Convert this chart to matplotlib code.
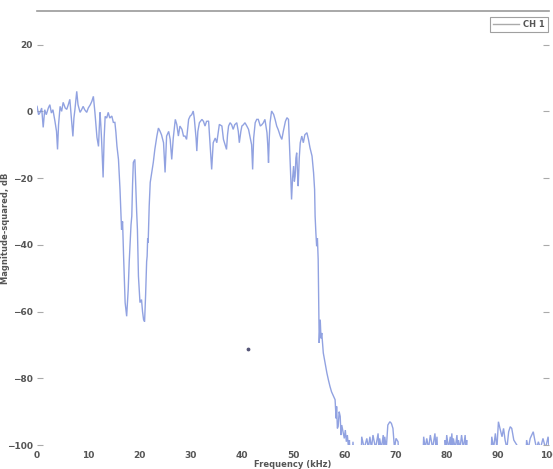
import matplotlib
matplotlib.use("Agg")
import matplotlib.pyplot as plt
from matplotlib.lines import Line2D

freq_khz = [
    0.0, 0.3, 0.6, 0.9, 1.2, 1.5, 1.8, 2.2, 2.5, 2.8, 3.1, 3.5, 3.8, 4.0, 4.2, 4.5, 4.8, 5.1, 5.5, 5.8,
    6.1, 6.4, 6.7, 7.0, 7.2, 7.4, 7.75, 8.0, 8.4, 8.7, 9.0, 9.3, 9.7, 10.0, 10.4, 10.7, 11.0, 11.3, 11.5, 11.7,
    12.0, 12.15, 12.3, 12.45, 12.6, 12.75, 12.9, 13.1, 13.3, 13.6, 13.9, 14.2, 14.6, 14.9, 15.2, 15.4, 15.6, 15.9, 16.2, 16.5,
    16.7, 16.9, 17.05, 17.2, 17.5, 17.8, 18.0, 18.2, 18.35, 18.5, 18.65, 18.8, 19.1, 19.3, 19.45, 19.6, 19.8, 20.1, 20.4, 20.6,
    20.8, 21.0, 21.2, 21.4, 21.5, 21.6, 21.7, 21.9, 22.1, 22.4, 22.7, 23.0, 23.4, 23.7, 24.0, 24.3, 24.7, 25.0, 25.3, 25.7,
    26.0, 26.3, 26.6, 27.0, 27.3, 27.6, 27.9, 28.3, 28.6, 28.9, 29.2, 29.6, 29.9, 30.2, 30.5, 30.7, 30.9, 31.05, 31.2, 31.4,
    31.7, 32.2, 32.5, 32.8, 33.1, 33.5, 33.8, 34.1, 34.4, 34.8, 35.1, 35.4, 35.6, 36.1, 36.4, 37.0, 37.2, 37.4, 37.7, 38.0,
    38.3, 38.6, 39.0, 39.3, 39.5, 39.8, 40.0, 40.3, 40.6, 41.0, 41.3, 41.7, 41.9, 42.1, 42.3, 42.6, 42.9, 43.2, 43.6, 43.9,
    44.2, 44.5, 44.9, 45.05, 45.2, 45.35, 45.5, 45.8, 46.2, 46.5, 46.8, 47.1, 47.5, 47.8, 48.1, 48.5, 48.8, 49.1, 49.25, 49.4,
    49.55, 49.7, 49.9, 50.1, 50.25, 50.4, 50.55, 50.7, 50.85, 51.0, 51.2, 51.4, 51.7, 52.0, 52.3, 52.7, 53.0, 53.3, 53.7, 54.0,
    54.2, 54.3, 54.45, 54.6, 54.75, 54.9, 55.0, 55.1, 55.3, 55.45, 55.6, 55.9, 56.2, 56.6, 56.9, 57.2, 57.5, 57.9, 58.2, 58.4,
    58.5, 58.65, 58.8, 59.0, 59.2, 59.35, 59.5, 59.8, 60.0, 60.2, 60.4, 60.6, 60.8, 61.0, 61.3, 61.7, 62.0, 63.2,
    63.4, 63.9, 64.4, 64.7, 65.0, 65.3, 65.6, 66.1, 66.6, 66.75, 66.9, 67.25, 67.6, 67.75, 67.9, 68.2, 68.5, 68.9, 69.2, 69.5,
    69.8, 70.1, 70.5, 70.8, 75.2,
    75.5, 75.8, 76.1, 76.45, 76.8, 77.25, 77.7, 77.9, 78.1, 78.4, 79.4, 79.7, 79.85, 80.0, 80.35, 80.7, 80.85, 81.0, 81.15, 81.3,
    81.65, 82.0, 82.15, 82.3, 82.6, 82.9, 83.25, 83.6, 83.75, 83.9, 84.2, 88.5,
    88.8, 89.15, 89.5, 89.8, 90.1, 90.4, 90.8, 91.1, 91.4, 91.75, 92.1, 92.4, 92.7, 93.1, 93.7, 94.0, 95.3,
    95.6, 95.95, 96.3, 96.9, 97.2, 97.55, 97.9, 98.3, 98.8, 99.3, 99.8, 100.0,
]

magnitude_db = [
    1.5, -1, -0.3, 1, -4.8, 0.5, -1, 1, 2, -0.5, 0.5, -3, -6, -11.4, -4, 1.5, 0, 2.7, 1, 0.6,
    2, 3.6, -2, -7.5, -2, 0.6, 6, 2, -0.3, 0.5, 1.5, 0.5, -0.3, 1, 2, 3, 4.5, -0.3, -4, -7.8,
    -10.5, -5, -0.3, -4, -8.4, -14, -19.8, -8, -1.5, -2, -0.3, -2, -1.4, -3.3, -3.3, -6.3, -10.4, -14.4, -23.4, -35.4,
    -33, -43.4, -50, -57.3, -61.4, -53.4, -45, -38.4, -34, -31.4, -22, -15.3, -14.4, -23.4, -30, -35.4, -49.4, -57.3, -56.4, -60,
    -62.4, -63, -55, -45, -43.4, -38, -39.3, -28.4, -21.3, -18.3, -15.3, -11.4, -7.4, -5, -5.9, -7, -9.4, -18.3, -7.4, -6,
    -8.4, -14.4, -8, -2.4, -4, -7.4, -4.4, -5.4, -7.4, -7.4, -8.4, -2.4, -1.4, -1, 0.1, -2, -5.4, -8, -11.9, -6,
    -3.4, -2.4, -3, -4.4, -3, -2.9, -10.4, -17.4, -9.4, -8, -9.4, -6, -3.9, -4.4, -8.4, -11.4, -7, -4.4, -3.4, -4,
    -5.4, -4, -3.4, -6, -9.4, -6, -4.4, -4, -3.4, -4.5, -5.4, -8.4, -10, -17.4, -8, -3.4, -2.4, -2.4, -4.4, -4,
    -3.4, -2.4, -6.4, -10, -15.4, -8, -3.4, 0.1, -0.9, -2.5, -4.4, -5.5, -7.4, -8.4, -5.9, -3, -1.9, -2.4, -8, -13.4,
    -20, -26.4, -20, -16.4, -21, -19.4, -14, -12.4, -18, -22.4, -14, -9.4, -7.4, -9.4, -7, -6.4, -8.4, -10.9, -13.4, -18.4,
    -23.4, -31.4, -36.4, -40.4, -38, -44.4, -58.4, -69.4, -62.4, -68, -66.4, -72.4, -75, -78.4, -80.5, -82.4, -84, -85.4, -86.4, -92,
    -88.4, -95, -94.4, -90, -91.4, -97, -94, -96.4, -98, -95.5, -99, -97, -100.5, -98.5, -110, -99, -110, -110,
    -97.5, -101, -98, -101, -97.5, -101, -97, -101, -96.5, -101, -98, -101, -97, -101, -97.5, -101, -94, -93, -93.5, -95,
    -101, -98, -99, -110, -110,
    -97.5, -101, -98, -101, -97, -101, -96.5, -101, -97.5, -110, -110, -98.5, -101, -97, -101, -97.5, -101, -96.5, -101, -98,
    -101, -97, -101, -98.5, -101, -97, -101, -97, -101, -98.5, -110, -110,
    -97.5, -101, -96.5, -101, -93, -95, -97.5, -95, -98.5, -101, -96, -94.5, -95, -98.5, -100, -110, -110,
    -98.5, -101, -98, -96, -98.5, -101, -99, -101, -98, -101, -97.5, -101,
]

stray_point_x = [41.2]
stray_point_y = [-71.1]

x_ticks = [0, 10, 20, 30, 40, 50, 60, 70, 80, 90, 100]
y_ticks = [-100, -80, -60, -40, -20, 0, 20]

fig = plt.figure(figsize=(5.53, 4.69), dpi=100)
ax = fig.add_axes([0.067, 0.051, 0.926, 0.925])

ax.plot(freq_khz, magnitude_db, color="#7e92dc", lw=1.0, alpha=0.85, solid_joinstyle="miter")
ax.scatter(stray_point_x, stray_point_y, s=3, color="#555577", zorder=3)

ax.set_xlim(0, 100)
ax.set_ylim(-100, 30)
ax.set_xticks(x_ticks)
ax.set_yticks(y_ticks)

for side in ["left", "right", "bottom"]:
    ax.spines[side].set_visible(False)
ax.spines["top"].set_color("#9a9a9a")
ax.spines["top"].set_linewidth(1.2)

ax.tick_params(axis="y", direction="in", length=4, width=0.8, color="#aaaaaa",
               labelsize=6.5, labelcolor="#555555", right=True, pad=3)
ax.tick_params(axis="x", length=0, labelsize=6.5, labelcolor="#555555", pad=4)
for lbl in ax.get_xticklabels() + ax.get_yticklabels():
    lbl.set_fontweight("bold")

ax.set_xlabel("Frequency (kHz)", fontsize=6, color="#555555", fontweight="bold", labelpad=0.5)
ax.set_ylabel("Magnitude-squared, dB", fontsize=6, color="#555555", fontweight="bold")
ax.yaxis.set_label_coords(-0.052, 0.5)

handle = Line2D([], [], color="#aaaaaa", lw=1.0)
leg = ax.legend([handle], ["CH 1"], loc="upper right", fontsize=6, frameon=True,
                fancybox=False, edgecolor="#888888", handlelength=3.2, borderpad=0.35,
                handletextpad=0.5, borderaxespad=0, bbox_to_anchor=(0.998, 0.986))
leg.get_frame().set_linewidth(0.8)
for t in leg.get_texts():
    t.set_color("#555555")
    t.set_fontweight("bold")

fig.savefig("out.png", dpi=100)
